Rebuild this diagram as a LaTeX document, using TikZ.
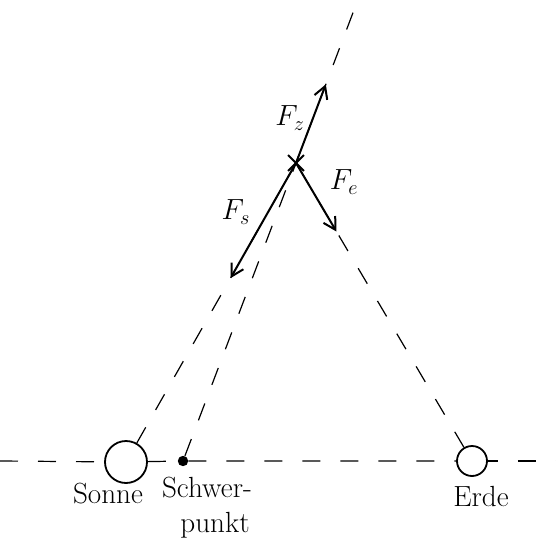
\documentclass[tikz,border=0pt]{standalone}
\usepackage{tikz}
\usetikzlibrary{arrows.meta,shapes.misc,calc}

\begin{document}
\begin{tikzpicture}[x=0.25mm,y=-0.25mm,>={Straight Barb[length=3mm,width=3.4mm]}]
\tikzset{
  hilfslinie/.style={line width=0.3mm,dash pattern=on 4.5mm off 5mm},
  kraft/.style={->,line width=0.5mm},
  himmelskoerper/.style={draw,circle,line width=0.45mm,inner sep=0pt},
  beschriftung/.style={font=\huge}
}
\useasboundingbox (0,0) rectangle (556,540);
% Sonne, Schwerpunkt, Erde
\node[himmelskoerper,minimum size=10.5mm] (sonne) at (126,462) {};
\node[circle,fill,inner sep=0pt,minimum size=2.6mm] (schwer) at (183,461) {};
\node[himmelskoerper,minimum size=7.5mm] (erde) at (472,461) {};
\node[draw,cross out,line width=0.45mm,minimum size=3.5mm,inner sep=0pt] (koerper) at (296,163) {};
\coordinate (links) at (0,461);
\coordinate (rechts) at (556,461);
\coordinate (oben) at ($(schwer)!1.55!(koerper)$);
% Verbindungslinien
\draw[hilfslinie] (links) -- (sonne);
\draw[hilfslinie] (sonne) -- (schwer) -- (erde);
\draw[hilfslinie,dash phase=2mm] (erde) -- (rechts);
\draw[hilfslinie] (sonne) -- (koerper.center);
\draw[hilfslinie] (erde) -- (koerper.center);
\draw[hilfslinie] (schwer) -- (oben);
% Kraefte
\draw[kraft] (koerper.center) -- ($(koerper.center)!0.385!(sonne)$);
\draw[kraft] (koerper.center) -- ($(koerper.center)!0.23!(erde)$);
\draw[kraft] (koerper.center) -- ($(koerper.center)!0.48!(oben)$);
\node[beschriftung] (fz) at (290,118) {$F_z$};
\node[beschriftung] (fe) at (344,182) {$F_e$};
\node[beschriftung] (fs) at (236,212) {$F_s$};
% Namen
\node[beschriftung] (lsonne) at (108,494) {Sonne};
\node[beschriftung,align=center] (lschwer) at (207,508) {Schwer-\\\hspace*{4mm}punkt};
\node[beschriftung] (lerde) at (481,496) {Erde};
\end{tikzpicture}
\end{document}
